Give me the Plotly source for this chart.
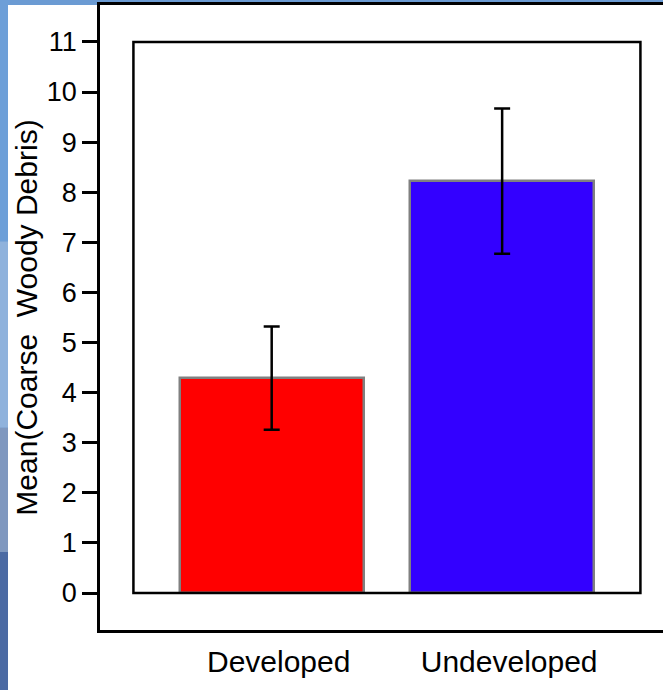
import plotly.graph_objects as go

categories = ["Developed", "Undeveloped"]
means = [4.29, 8.22]
errors = [1.03, 1.45]
bar_colors = ["#ff0000", "#3300ff"]
y_ticks = list(range(0, 12))

FONT = "Liberation Sans, Arial, Helvetica, sans-serif"

fig = go.Figure()
fig.add_trace(go.Bar(
    x=categories,
    y=means,
    width=0.80,
    marker=dict(color=bar_colors, line=dict(color="#808080", width=2.5)),
    error_y=dict(type="data", array=errors, visible=True,
                 color="black", thickness=2.5, width=8),
    showlegend=False,
))

# left strip background variation (slide background)
strip = [("#6d9fd8", 0.0, 0.35), ("#8fb2dc", 0.35, 0.62), ("#7f98bf", 0.62, 0.80), ("#4b6aa3", 0.80, 1.0)]
shapes = []
for c, a, b in strip:
    shapes.append(dict(type="rect", xref="paper", yref="paper",
                       x0=-0.18, x1=-0.16, y0=1.008 - (1.104 * b), y1=1.008 - (1.104 * a),
                       fillcolor=c, line=dict(width=0), layer="below"))
# white slide panel
shapes.append(dict(type="rect", xref="paper", yref="paper",
                   x0=-0.1634, x1=1.05, y0=-0.2, y1=1.0,
                   fillcolor="white", line=dict(width=0), layer="below"))
# inner frame
shapes.append(dict(type="rect", xref="x", yref="y",
                   x0=-0.6, x1=1.6, y0=0, y1=11,
                   line=dict(color="black", width=2.5), layer="above"))

fig.update_layout(
    width=663, height=690,
    margin=dict(l=100, r=0, t=5, b=60, autoexpand=False),
    paper_bgcolor="#6b9bd3",
    plot_bgcolor="white",
    font=dict(family=FONT, color="black"),
    shapes=shapes,
    bargap=0,
    xaxis=dict(
        type="category",
        range=[-0.745, 1.698],
        showline=True, linecolor="black", linewidth=2.5, mirror=True,
        showgrid=False, zeroline=False,
        ticks="", tickfont=dict(size=30, family=FONT),
        ticklabelshift=7, ticklabelstandoff=3,
        automargin=False,
    ),
    yaxis=dict(
        range=[-0.738, 11.737],
        tickvals=y_ticks,
        ticktext=[str(v) for v in y_ticks],
        showline=True, linecolor="black", linewidth=2.5, mirror=False,
        showgrid=False, zeroline=False,
        ticks="outside", ticklen=15, tickwidth=2.5, tickcolor="black",
        tickfont=dict(size=27, family=FONT),
        title=dict(text="Mean(Coarse  Woody Debris)", font=dict(size=30, family=FONT), standoff=1),
        automargin=False,
    ),
)

fig.write_html(
    "out.html",
    config={"displayModeBar": False},
    post_script="document.body.style.margin='0';document.body.style.padding='0';"
                "document.body.style.overflow='hidden';",
)
